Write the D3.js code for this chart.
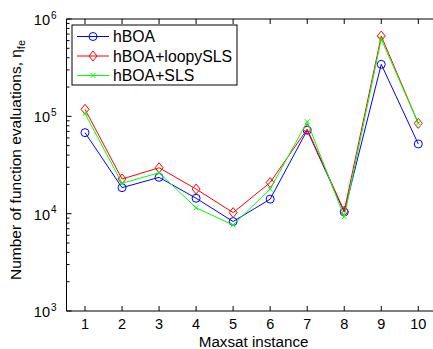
<!DOCTYPE html>
<html><head><meta charset="utf-8">
<script src="https://cdn.jsdelivr.net/npm/d3@7"></script>
<style>body{margin:0;background:#fff}svg{display:block}text{font-family:"Liberation Sans",Arial,sans-serif}</style>
</head><body>
<script>
const instances = [1,2,3,4,5,6,7,8,9,10];
const seriesNames = ["hBOA","hBOA+loopySLS","hBOA+SLS"];
const hBOA      = [68000,18500,23600,14400,8300,14100,72000,10400,342000,52000];
const loopySLS  = [118000,22700,29600,17900,10250,20900,74000,10600,668000,84700];
const sls       = [107000,20500,26300,11500,7640,17900,88000,9300,622000,84700];
const colors = ["#0000ff","#ff0000","#00ff00"];
const yTicks = [1e3,1e4,1e5,1e6];

const W=433,H=349;
const svg=d3.select("body").append("svg").attr("width",W).attr("height",H);
const x=d3.scaleLinear().domain([0.5,10.5]).range([66.5,436.8]);
const y=d3.scaleLog().domain([1e3,1e6]).range([311,19]);

const g=svg.append("g");
g.append("line").attr("x1",66.5).attr("x2",W).attr("y1",19).attr("y2",19).attr("stroke","#000");
g.append("line").attr("x1",66.5).attr("x2",W).attr("y1",311).attr("y2",311).attr("stroke","#000");
g.append("line").attr("x1",66.5).attr("x2",66.5).attr("y1",19).attr("y2",311).attr("stroke","#000");

instances.forEach(d=>{
  g.append("line").attr("x1",x(d)).attr("x2",x(d)).attr("y1",311).attr("y2",306).attr("stroke","#000");
  g.append("line").attr("x1",x(d)).attr("x2",x(d)).attr("y1",19).attr("y2",24).attr("stroke","#000");
  g.append("text").attr("x",x(d)).attr("y",328.5).attr("text-anchor","middle").attr("font-size",14.5).text(d);
});
const minor=[];
for(let e=3;e<6;e++) for(let m=2;m<=9;m++) minor.push(m*Math.pow(10,e));
minor.forEach(v=>g.append("line").attr("x1",66.5).attr("x2",69.5).attr("y1",y(v)).attr("y2",y(v)).attr("stroke","#000"));
yTicks.forEach(v=>{
  g.append("line").attr("x1",66.5).attr("x2",71.5).attr("y1",y(v)).attr("y2",y(v)).attr("stroke","#000");
  g.append("text").attr("x",50).attr("y",y(v)+6).attr("text-anchor","end").attr("font-size",14.5).text("10");
  g.append("text").attr("x",51).attr("y",y(v)-0.5).attr("font-size",10).text(Math.round(Math.log10(v)));
});

g.append("text").attr("x",x(5.5)+2).attr("y",347).attr("text-anchor","middle").attr("font-size",15.2).text("Maxsat instance");
const yt=g.append("text").attr("transform","translate(21,160) rotate(-90)").attr("text-anchor","middle").attr("font-size",15.5);
yt.append("tspan").text("Number of function evaluations, η");
yt.append("tspan").attr("font-size",11).attr("dy",4).text("fe");

const all=[hBOA,loopySLS,sls];
const line=d3.line().x((d,i)=>x(instances[i])).y(d=>y(d));
function marker(sel,k,cx,cy){
  const c=colors[k];
  if(k===0) sel.append("circle").attr("cx",cx).attr("cy",cy).attr("r",4).attr("fill","none").attr("stroke",c);
  else if(k===1) sel.append("path").attr("d",`M${cx},${cy-5}L${cx+4},${cy}L${cx},${cy+5}L${cx-4},${cy}Z`).attr("fill","none").attr("stroke",c);
  else sel.append("path").attr("d",`M${cx-2.5},${cy-2.5}L${cx+2.5},${cy+2.5}M${cx-2.5},${cy+2.5}L${cx+2.5},${cy-2.5}`).attr("stroke",c);
}
all.forEach((s,k)=>{
  const gs=svg.append("g");
  gs.append("path").datum(s).attr("d",line).attr("fill","none").attr("stroke",colors[k]).attr("stroke-width",1);
  s.forEach((v,i)=>marker(gs,k,x(instances[i]),y(v)));
});

const lg=svg.append("g");
lg.append("rect").attr("x",72).attr("y",25).attr("width",165).attr("height",60).attr("fill","#fff").attr("stroke","#000");
seriesNames.forEach((n,k)=>{
  const yy=36.5+k*19.5;
  lg.append("line").attr("x1",77).attr("x2",109).attr("y1",yy).attr("y2",yy).attr("stroke",colors[k]);
  marker(lg,k,93,yy);
  lg.append("text").attr("x",113).attr("y",yy+5.5).attr("font-size",15.8).text(n);
});
</script>
</body></html>
